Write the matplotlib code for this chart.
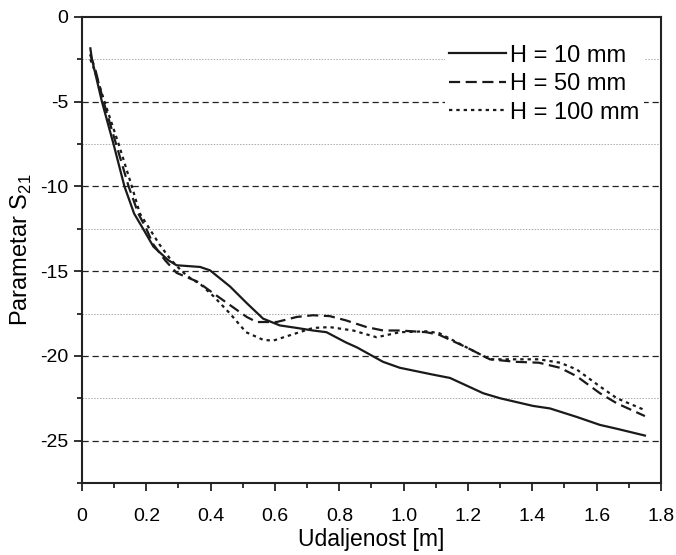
import matplotlib
matplotlib.use('Agg')
import matplotlib.pyplot as plt
from matplotlib.ticker import MultipleLocator, FixedLocator

plt.rcParams['font.family'] = ['Liberation Sans', 'DejaVu Sans']
plt.rcParams['axes.unicode_minus'] = False

# H = 10 mm (solid)
x_10 = [0.026, 0.031, 0.062, 0.098, 0.132, 0.162, 0.19, 0.222, 0.268, 0.294, 0.367,
        0.398, 0.46, 0.513, 0.563, 0.615, 0.668, 0.718, 0.76, 0.82, 0.855, 0.936,
        0.988, 1.09, 1.144, 1.247, 1.30, 1.402, 1.455, 1.538, 1.61, 1.663, 1.75]
y_10 = [-1.85, -2.5, -5.0, -7.5, -10.0, -11.6, -12.5, -13.55, -14.35, -14.65, -14.75,
        -14.95, -15.9, -16.9, -17.8, -18.2, -18.35, -18.5, -18.6, -19.2, -19.5, -20.35,
        -20.7, -21.1, -21.3, -22.2, -22.5, -22.95, -23.1, -23.6, -24.07, -24.3, -24.7]

# H = 50 mm (dashed)
x_50 = [0.025, 0.04, 0.067, 0.106, 0.145, 0.175, 0.2, 0.221, 0.258, 0.294, 0.357, 0.408,
        0.46, 0.512, 0.543, 0.605, 0.668, 0.718, 0.77, 0.82, 0.885, 0.936, 0.988, 1.07,
        1.11, 1.196, 1.268, 1.35, 1.42, 1.486, 1.538, 1.61, 1.663, 1.75]
y_50 = [-2.2, -3.0, -5.0, -7.5, -10.0, -11.6, -12.5, -13.4, -14.35, -15.1, -15.6, -16.3,
        -17.0, -17.7, -18.0, -18.0, -17.7, -17.6, -17.65, -17.9, -18.3, -18.5, -18.5, -18.6,
        -18.75, -19.5, -20.2, -20.35, -20.4, -20.7, -21.2, -22.2, -22.8, -23.55]

# H = 100 mm (dotted)
x_100 = [0.026, 0.04, 0.07, 0.114, 0.155, 0.18, 0.21, 0.24, 0.275, 0.31, 0.336, 0.37,
         0.41, 0.46, 0.51, 0.563, 0.594, 0.668, 0.718, 0.77, 0.843, 0.916, 0.988, 1.07,
         1.11, 1.196, 1.268, 1.35, 1.42, 1.486, 1.538, 1.61, 1.663, 1.75]
y_100 = [-2.5, -3.2, -5.0, -7.5, -10.0, -11.6, -12.5, -13.4, -14.3, -15.0, -15.4, -15.8,
         -16.5, -17.5, -18.6, -19.05, -19.1, -18.65, -18.35, -18.3, -18.5, -18.9, -18.6, -18.55,
         -18.65, -19.5, -20.2, -20.2, -20.2, -20.4, -20.8, -21.8, -22.5, -23.2]

x_ticks = [0, 0.2, 0.4, 0.6, 0.8, 1.0, 1.2, 1.4, 1.6, 1.8]
x_tick_labels = ['0', '0.2', '0.4', '0.6', '0.8', '1.0', '1.2', '1.4', '1.6', '1.8']
y_ticks = [0, -5, -10, -15, -20, -25]
y_tick_labels = ['0', '-5', '-10', '-15', '-20', '-25']

fig = plt.figure(figsize=(6.76, 5.55), dpi=100)
ax = fig.add_axes([0.1213, 0.1297, 0.8565, 0.8397])

# grid lines: major dashed black, minor dotted gray
for yv in [-5, -10, -15, -20, -25]:
    ax.axhline(yv, color='#222222', lw=0.9, ls=(0, (5, 3)), zorder=1)
for yv in [-2.5, -7.5, -12.5, -17.5, -22.5]:
    ax.axhline(yv, color='#aaaaaa', lw=0.7, ls=(0, (1.5, 1.5)), zorder=1)

ax.plot(x_10, y_10, color='#1a1a1a', lw=1.6, ls='-', label='H = 10 mm', zorder=3)
ax.plot(x_50, y_50, color='#1a1a1a', lw=1.6, ls=(0, (5, 2.5)), label='H = 50 mm', zorder=3)
ax.plot(x_100, y_100, color='#1a1a1a', lw=1.6, ls=(0, (1.5, 1.8)), label='H = 100 mm', zorder=3)

ax.set_xlim(0, 1.8)
ax.set_ylim(-27.5, 0)
ax.xaxis.set_major_locator(FixedLocator(x_ticks))
ax.set_xticklabels(x_tick_labels)
ax.xaxis.set_minor_locator(MultipleLocator(0.1))
ax.yaxis.set_major_locator(FixedLocator(y_ticks))
ax.set_yticklabels(y_tick_labels)
ax.yaxis.set_minor_locator(MultipleLocator(2.5))

ax.tick_params(which='both', direction='out', labelsize=14, color='#222222', width=1.3)
ax.tick_params(which='major', length=6)
ax.tick_params(which='minor', length=3.5)
ax.tick_params(axis='x', which='major', pad=12)
ax.tick_params(axis='y', which='major', pad=4)
for s in ax.spines.values():
    s.set_linewidth(1.5)
    s.set_color('#222222')

ax.set_xlabel('Udaljenost [m]', fontsize=16.5, labelpad=2)
ax.set_ylabel('Parametar S$_{\\mathregular{21}}$', fontsize=17, labelpad=4)

leg = ax.legend(loc='upper right', bbox_to_anchor=(0.97, 0.951), fontsize=17,
                handlelength=2.4, handletextpad=0.15, labelspacing=0.28,
                borderaxespad=0, borderpad=0.2, frameon=True, fancybox=False)
leg.get_frame().set_facecolor('white')
leg.get_frame().set_edgecolor('none')
leg.get_frame().set_alpha(1)
leg.set_zorder(5)

fig.savefig('out.png', dpi=100)
